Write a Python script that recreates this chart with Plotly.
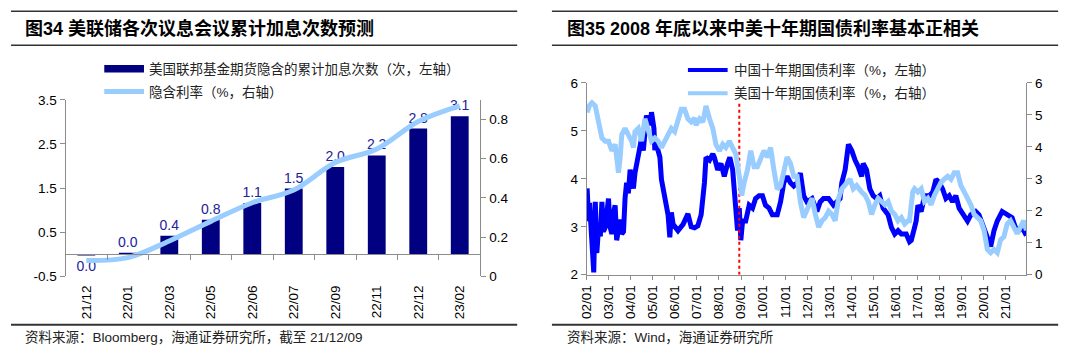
import plotly.graph_objects as go

W, H = 1080, 357

# ---------------- Left chart data (图34) ----------------
meetings = ["21/12", "22/01", "22/03", "22/05", "22/06", "22/07", "22/09", "22/11", "22/12", "23/02"]
cum_hikes = [-0.03, 0.03, 0.42, 0.78, 1.16, 1.49, 1.98, 2.24, 2.85, 3.13]
cum_hike_labels = ["0.0", "0.0", "0.4", "0.8", "1.1", "1.5", "2.0", "2.2", "2.8", "3.1"]
implied_rate = [0.08, 0.095, 0.18, 0.28, 0.375, 0.44, 0.58, 0.65, 0.79, 0.87]

# ---------------- Right chart data (图35) ----------------
cn_year = [2002.02, 2002.09, 2002.13, 2002.24, 2002.32, 2002.39, 2002.46, 2002.54, 2002.62, 2002.69,
           2002.76, 2002.84, 2002.92, 2002.99, 2003.06, 2003.14, 2003.22, 2003.29, 2003.36, 2003.44,
           2003.52, 2003.59, 2003.67, 2003.74, 2003.81, 2003.89, 2003.97, 2004.04, 2004.12, 2004.19,
           2004.34, 2004.49, 2004.57, 2004.71, 2004.87, 2004.94, 2005.05, 2005.09, 2005.16, 2005.32,
           2005.39, 2005.54, 2005.69, 2005.77, 2005.84, 2005.92, 2005.99, 2006.14, 2006.37, 2006.59,
           2006.74, 2006.89, 2007.04, 2007.19, 2007.34, 2007.41, 2007.57, 2007.72, 2007.79, 2007.94,
           2008.09, 2008.24, 2008.39, 2008.49, 2008.62, 2008.69, 2008.76, 2008.84, 2008.92, 2008.99,
           2009.07, 2009.21, 2009.37, 2009.52, 2009.66, 2009.82, 2009.97, 2010.11, 2010.27, 2010.42,
           2010.64, 2010.79, 2010.94, 2011.09, 2011.24, 2011.39, 2011.54, 2011.69, 2011.84, 2011.99,
           2012.22, 2012.44, 2012.59, 2012.74, 2012.97, 2013.19, 2013.34, 2013.49, 2013.57, 2013.72,
           2013.87, 2014.02, 2014.17, 2014.32, 2014.47, 2014.54, 2014.69, 2014.84, 2014.99, 2015.14,
           2015.29, 2015.44, 2015.67, 2015.82, 2015.97, 2016.12, 2016.27, 2016.49, 2016.64, 2016.72,
           2016.87, 2016.94, 2017.02, 2017.17, 2017.32, 2017.54, 2017.69, 2017.84, 2017.99, 2018.14,
           2018.29, 2018.44, 2018.59, 2018.74, 2018.89, 2019.12, 2019.27, 2019.42, 2019.64, 2019.79,
           2019.94, 2020.17, 2020.32, 2020.47, 2020.62, 2020.84, 2021.07, 2021.29, 2021.44, 2021.59,
           2021.74, 2021.89, 2021.94]
cn_rate = [3.80, 3.12, 3.50, 2.60, 2.05, 3.52, 2.45, 2.99, 2.80, 3.52,
           2.90, 2.99, 3.30, 3.59, 3.00, 2.85, 3.30, 3.45, 2.72, 3.00,
           3.15, 2.85, 2.90, 3.59, 3.92, 3.70, 4.19, 4.00, 3.80, 4.12,
           4.45, 4.85, 4.59, 5.32, 5.12, 5.39, 5.05, 4.60, 4.72, 4.45,
           3.99, 3.60, 3.25, 2.78, 3.30, 3.05, 3.00, 2.92, 3.05, 3.27,
           3.00, 2.98, 3.02, 3.25, 3.92, 4.45, 4.39, 4.52, 4.45, 4.19,
           4.32, 4.05, 4.32, 4.45, 4.19, 3.79, 3.12, 2.92, 3.39, 2.72,
           3.12, 3.12, 3.45, 3.39, 3.59, 3.65, 3.65, 3.45, 3.39, 3.25,
           3.25, 3.52, 3.92, 4.05, 3.92, 3.85, 3.92, 4.12, 3.65, 3.52,
           3.59, 3.32, 3.52, 3.59, 3.59, 3.45, 3.52, 3.59, 3.92, 4.19,
           4.72, 4.59, 4.39, 4.25, 4.05, 4.32, 4.19, 3.79, 3.65, 3.59,
           3.65, 3.39, 3.25, 2.99, 2.85, 2.92, 2.85, 2.85, 2.69, 2.72,
           2.99, 3.12, 3.45, 3.32, 3.65, 3.65, 3.72, 3.99, 3.92, 3.79,
           3.59, 3.65, 3.52, 3.65, 3.39, 3.25, 3.12, 3.25, 3.32, 3.25,
           3.05, 2.72, 2.59, 2.92, 3.12, 3.32, 3.25, 3.19, 2.99, 2.92,
           2.99, 2.85, 2.82]

us_year = [2002.02, 2002.13, 2002.24, 2002.39, 2002.54, 2002.69, 2002.84, 2002.99, 2003.14, 2003.29,
           2003.36, 2003.44, 2003.52, 2003.59, 2003.74, 2003.89, 2004.04, 2004.12, 2004.19, 2004.34,
           2004.49, 2004.64, 2004.79, 2004.94, 2005.09, 2005.24, 2005.39, 2005.54, 2005.69, 2005.84,
           2005.99, 2006.14, 2006.29, 2006.44, 2006.59, 2006.74, 2006.89, 2006.96, 2007.12, 2007.27,
           2007.41, 2007.57, 2007.72, 2007.86, 2008.02, 2008.17, 2008.31, 2008.47, 2008.62, 2008.76,
           2008.92, 2009.03, 2009.14, 2009.29, 2009.44, 2009.59, 2009.74, 2009.89, 2010.04, 2010.19,
           2010.34, 2010.49, 2010.64, 2010.79, 2010.94, 2011.09, 2011.24, 2011.39, 2011.54, 2011.69,
           2011.84, 2011.91, 2012.07, 2012.22, 2012.37, 2012.52, 2012.67, 2012.82, 2012.97, 2013.12,
           2013.27, 2013.42, 2013.57, 2013.72, 2013.94, 2014.09, 2014.24, 2014.47, 2014.62, 2014.77,
           2014.92, 2015.07, 2015.22, 2015.37, 2015.52, 2015.67, 2015.82, 2015.97, 2016.12, 2016.27,
           2016.42, 2016.57, 2016.64, 2016.72, 2016.79, 2016.87, 2017.02, 2017.17, 2017.32, 2017.47,
           2017.62, 2017.77, 2017.92, 2018.07, 2018.22, 2018.37, 2018.52, 2018.67, 2018.82, 2018.97,
           2019.12, 2019.27, 2019.42, 2019.57, 2019.72, 2019.87, 2020.02, 2020.17, 2020.32, 2020.47,
           2020.62, 2020.77, 2020.92, 2021.07, 2021.22, 2021.37, 2021.52, 2021.67, 2021.82, 2021.94]
us_rate = [5.08, 5.30, 5.38, 5.28, 4.78, 4.28, 4.18, 4.18, 3.88, 4.08,
           3.68, 3.19, 3.68, 4.38, 4.58, 4.38, 4.18, 3.98, 4.48, 4.58,
           4.18, 4.88, 4.48, 4.18, 4.28, 4.18, 3.98, 4.18, 4.38, 4.58,
           4.48, 4.88, 5.18, 5.18, 4.88, 4.78, 4.90, 4.68, 4.88, 4.78,
           5.28, 4.88, 4.58, 4.08, 3.88, 4.08, 3.98, 4.18, 3.98, 3.78,
           3.08, 2.48, 2.88, 3.28, 3.88, 3.38, 3.38, 3.68, 3.88, 3.68,
           3.98, 3.28, 2.68, 2.78, 3.18, 3.68, 3.48, 3.08, 3.08, 2.28,
           1.79, 1.89, 2.19, 2.39, 1.89, 1.49, 1.69, 1.79, 1.99, 1.89,
           1.69, 2.39, 2.69, 2.79, 2.99, 2.69, 2.79, 2.59, 2.49, 2.29,
           1.89, 2.19, 2.39, 2.29, 2.19, 2.29, 1.99, 1.89, 1.69, 1.79,
           1.59, 1.69, 1.69, 2.20, 2.60, 2.69, 2.59, 2.69, 2.29, 2.39,
           2.19, 2.49, 2.69, 2.89, 2.99, 3.08, 2.99, 3.19, 3.19, 2.79,
           2.59, 2.39, 2.19, 1.89, 1.79, 1.69, 1.39, 0.79, 0.69, 0.79,
           0.69, 1.09, 1.19, 1.59, 1.69, 1.49, 1.29, 1.49, 1.69, 1.39]

event_year = 2008.92          # 2008年底
event_span = [2.0, 5.63]      # extent of the dotted marker on the left axis
year_ticks = list(range(2002, 2022))
year_tick_labels = [f"{y % 100:02d}/01" for y in year_ticks]

# ---------------- styling ----------------
NAVY = "#000080"
LIGHT = "#99CCFF"
BLUE = "#0000FF"
AXIS = "#8C8C8C"
NUM_FONT = "Liberation Sans, Arial, sans-serif"
MIX_FONT = "Liberation Sans, Noto Sans CJK SC, sans-serif"


def px(x):
    return x / W


def py(y):
    return 1 - y / H


# plot areas (pixel -> paper)
L_x0, L_x1, L_top, L_bot = 58, 476, 97, 281
R_x0, R_x1, R_top, R_bot = 583, 1026, 79.3, 279.5
L_ydom = [py(L_bot), py(L_top)]
R_ydom = [py(R_bot), py(R_top)]
L_yrange = [-0.5, 3.5]
zero_pos = L_ydom[0] + (0 - L_yrange[0]) / (L_yrange[1] - L_yrange[0]) * (L_ydom[1] - L_ydom[0])

fig = go.Figure()

fig.add_trace(go.Bar(
    x=meetings, y=cum_hikes, xaxis="x", yaxis="y",
    marker=dict(color=NAVY, line=dict(width=0)), width=0.43,
    text=cum_hike_labels, textposition="outside", cliponaxis=False, constraintext="none",
    textfont=dict(family=NUM_FONT, size=14, color="#22229A"),
    showlegend=False, hoverinfo="skip"))

fig.add_trace(go.Scatter(
    x=meetings, y=implied_rate, xaxis="x", yaxis="y2", mode="lines",
    line=dict(color=LIGHT, width=5, shape="spline", smoothing=1.0),
    showlegend=False, hoverinfo="skip"))

fig.add_trace(go.Scatter(
    x=cn_year, y=cn_rate, xaxis="x2", yaxis="y3", mode="lines",
    line=dict(color=BLUE, width=5), showlegend=False, hoverinfo="skip"))

fig.add_trace(go.Scatter(
    x=us_year, y=us_rate, xaxis="x2", yaxis="y4", mode="lines",
    line=dict(color=LIGHT, width=5), showlegend=False, hoverinfo="skip"))

fig.add_trace(go.Scatter(
    x=[event_year, event_year], y=event_span, xaxis="x2", yaxis="y3", mode="lines",
    line=dict(color="#FF0000", width=2, dash="dot"), showlegend=False, hoverinfo="skip"))

tickfont = dict(family=NUM_FONT, size=13.5, color="#000000")
common_y = dict(showgrid=False, zeroline=False, showline=True, linecolor=AXIS, linewidth=1,
                ticks="outside", ticklen=5, tickcolor=AXIS, tickfont=tickfont)

fig.update_layout(
    width=W, height=H, autosize=False,
    margin=dict(l=0, r=0, t=0, b=0, pad=0),
    paper_bgcolor="white", plot_bgcolor="white",
    showlegend=False, hovermode=False,
    xaxis=dict(domain=[px(L_x0), px(L_x1)], type="category", range=[-0.5, 9.5],
               anchor="free", position=zero_pos,
               showgrid=False, zeroline=False, showline=True, linecolor=AXIS, linewidth=1,
               ticks="outside", tickson="boundaries", ticklen=5, tickcolor=AXIS,
               tickangle=-90, ticklabelstandoff=25,
               tickfont=dict(family=NUM_FONT, size=13.5, color="#000000")),
    yaxis=dict(domain=L_ydom, range=L_yrange, anchor="x",
               tickvals=[-0.5, 0.5, 1.5, 2.5, 3.5], ticktext=["-0.5", "0.5", "1.5", "2.5", "3.5"],
               **common_y),
    yaxis2=dict(range=[0, 0.9], overlaying="y", side="right", anchor="x",
                tickvals=[0, 0.2, 0.4, 0.6, 0.8], ticktext=["0", "0.2", "0.4", "0.6", "0.8"],
                **common_y),
    xaxis2=dict(domain=[px(R_x0), px(R_x1)], range=[2002.0, 2021.94], anchor="y3",
                showgrid=False, zeroline=False, showline=True, linecolor=AXIS, linewidth=1,
                ticks="outside", ticklen=4, tickcolor=AXIS,
                tickvals=year_ticks, ticktext=year_tick_labels, tickangle=-90,
                tickfont=dict(family=NUM_FONT, size=13.5, color="#000000")),
    yaxis3=dict(domain=R_ydom, range=[2, 6], anchor="x2", dtick=1, tick0=0, **common_y),
    yaxis4=dict(range=[0, 6], overlaying="y3", side="right", anchor="x2", dtick=1, tick0=0, **common_y),
)

shapes = []
annotations = []

# header/footer rules
for (x0, x1) in [(3, 513), (548, 1058)]:
    for y, w in [(4.5, 1.5), (40, 1.5), (331.7, 2)]:
        shapes.append(dict(type="line", xref="paper", yref="paper",
                           x0=px(x0), x1=px(x1), y0=py(y), y1=py(y),
                           line=dict(color="#333333", width=w)))

# titles
annotations.append(dict(text="<b>图34 美联储各次议息会议累计加息次数预测</b>", x=px(15), y=py(22.5),
                        xref="paper", yref="paper", xanchor="left", yanchor="middle", showarrow=False,
                        font=dict(family=MIX_FONT, size=18, color="#000000")))
annotations.append(dict(text="<b>图35 2008 年底以来中美十年期国债利率基本正相关</b>", x=px(561), y=py(22.5),
                        xref="paper", yref="paper", xanchor="left", yanchor="middle", showarrow=False,
                        font=dict(family=MIX_FONT, size=18, color="#000000")))

# sources
annotations.append(dict(text="资料来源：Bloomberg，海通证券研究所，截至 21/12/09", x=px(15), y=py(345),
                        xref="paper", yref="paper", xanchor="left", yanchor="middle", showarrow=False,
                        font=dict(family=MIX_FONT, size=13.5, color="#222222")))
annotations.append(dict(text="资料来源：Wind，海通证券研究所", x=px(561), y=py(345),
                        xref="paper", yref="paper", xanchor="left", yanchor="middle", showarrow=False,
                        font=dict(family=MIX_FONT, size=13.5, color="#222222")))

# legends (drawn as keys + text)
legend_font = dict(family=MIX_FONT, size=13.5, color="#222222")
shapes.append(dict(type="rect", xref="paper", yref="paper", x0=px(97), x1=px(137),
                   y0=py(68.5), y1=py(60.5), fillcolor=NAVY, line=dict(width=0)))
annotations.append(dict(text="美国联邦基金期货隐含的累计加息次数（次，左轴）", x=px(140), y=py(64.5),
                        xref="paper", yref="paper", xanchor="left", yanchor="middle", showarrow=False,
                        font=legend_font))
shapes.append(dict(type="line", xref="paper", yref="paper", x0=px(97), x1=px(137),
                   y0=py(88.3), y1=py(88.3), line=dict(color=LIGHT, width=5)))
annotations.append(dict(text="隐含利率（%，右轴）", x=px(140), y=py(88.3),
                        xref="paper", yref="paper", xanchor="left", yanchor="middle", showarrow=False,
                        font=legend_font))

shapes.append(dict(type="line", xref="paper", yref="paper", x0=px(685), x1=px(725),
                   y0=py(65.7), y1=py(65.7), line=dict(color=BLUE, width=4)))
annotations.append(dict(text="中国十年期国债利率（%，左轴）", x=px(729), y=py(65.7),
                        xref="paper", yref="paper", xanchor="left", yanchor="middle", showarrow=False,
                        font=legend_font))
shapes.append(dict(type="line", xref="paper", yref="paper", x0=px(685), x1=px(725),
                   y0=py(90), y1=py(90), line=dict(color=LIGHT, width=4)))
annotations.append(dict(text="美国十年期国债利率（%，右轴）", x=px(729), y=py(90),
                        xref="paper", yref="paper", xanchor="left", yanchor="middle", showarrow=False,
                        font=legend_font))

fig.update_layout(shapes=shapes, annotations=annotations)

# remove the browser's default page margin so the figure sits at the window origin
fig.write_html("out.html", config={"displayModeBar": False, "staticPlot": True},
               post_script="document.body.style.margin='0';document.body.style.overflow='hidden';")
